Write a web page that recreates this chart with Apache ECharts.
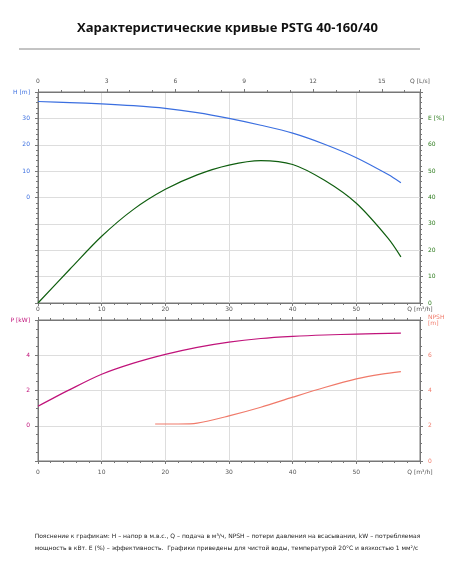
<!DOCTYPE html><html><head><meta charset="utf-8"><script src="https://cdn.jsdelivr.net/npm/echarts@6/dist/echarts.min.js"></script>
<style>html,body{margin:0;padding:0;background:#fff}#c{width:455px;height:567px}</style></head><body><div id="c"></div><script>
var qH=[0,5,10,15,20,25,30,35,40,45,50,55,57];
var H=[36.4,36.0,35.5,34.8,33.8,32.2,30.0,27.4,24.4,20.2,15.1,8.7,5.6];
var qE=[0,5,10,15,20,25,30,35,40,45,50,55,57];
var E=[0,12.8,25.3,35.5,43.1,48.6,52.3,54.0,52.5,46.5,37.8,24.5,17.5];
var qP=[0,5,10,15,20,25,30,35,40,45,50,57];
var P=[1.11,2.05,2.92,3.55,4.05,4.45,4.75,4.95,5.07,5.15,5.2,5.26];
var qN=[18.4,22,25,30,35,40,45,50,54,57];
var N=[2.1,2.1,2.15,2.56,3.05,3.62,4.17,4.66,4.93,5.07];
function pairs(x,y){return x.map(function(v,i){return [v,y[i]];});}
var lab={fontSize:6,color:'#555',fontFamily:'DejaVu Sans'};
function L(c){return Object.assign({},lab,{color:c});}
var ax={onZero:false,lineStyle:{color:'#777'}};
var split={lineStyle:{color:'#ddd'}};
var tick={show:true,length:3,lineStyle:{color:'#777'}};
var chart=echarts.init(document.getElementById('c'));
function S(xi,yi,q,v,c){return {type:'line',xAxisIndex:xi,yAxisIndex:yi,data:pairs(q,v),smooth:0.3,showSymbol:false,lineStyle:{color:c,width:1.2}};}
chart.setOption({
 animation:false,
 title:{text:'Характеристические кривые PSTG 40-160/40',left:'center',top:17,textStyle:{fontSize:13,fontWeight:'bold',color:'#111',fontFamily:'Open Sans'}},
 graphic:[{type:'line',shape:{x1:19,y1:49,x2:420,y2:49},style:{stroke:'#888',lineWidth:1}},
  {type:'text',left:'center',top:530,style:{text:'Пояснение к графикам: H – напор в м.в.с., Q – подача в м³/ч, NPSH – потери давления на всасывании, kW – потребляемая\nмощность в кВт. E (%) – эффективность.  Графики приведены для чистой воды, температурой 20°C и вязкостью 1 мм²/с',fontSize:6,lineHeight:12,fill:'#222',align:'center',fontFamily:'DejaVu Sans'}}],
 grid:[{left:38,right:35,top:92,height:211,show:true,borderColor:'#777',borderWidth:1},
       {left:38,right:35,top:320,height:141,show:true,borderColor:'#777',borderWidth:1}],
 xAxis:[
  {gridIndex:0,type:'value',min:0,max:60,interval:10,axisLabel:{show:false},axisLine:ax,axisTick:tick,minorTick:{show:true,splitNumber:5,length:2},splitLine:split},
  {gridIndex:0,type:'value',position:'top',min:0,max:60/3.6,interval:3,axisLine:ax,axisTick:tick,minorTick:{show:true,splitNumber:3,length:2},splitLine:{show:false},
   axisLabel:Object.assign({},lab,{showMaxLabel:true,formatter:function(v){return v>16?'Q [L/s]':v;}})},
  {gridIndex:1,type:'value',min:0,max:60,interval:10,axisLine:ax,axisTick:tick,minorTick:{show:true,splitNumber:5,length:2},splitLine:split,
   axisLabel:Object.assign({},lab,{formatter:function(v){return v==60?'Q [m³/h]':v;}})},
  {gridIndex:1,type:'value',position:'top',min:0,max:60,interval:10,axisLine:ax,axisTick:tick,minorTick:{show:true,splitNumber:5,length:2},splitLine:{show:false},
   axisLabel:Object.assign({},lab,{formatter:function(v){return v==60?'Q [m³/h]':v;}})}
 ],
 yAxis:[
  {gridIndex:0,type:'value',min:-40,max:40,interval:10,axisLine:ax,axisTick:tick,minorTick:{show:true,splitNumber:5,length:2},splitLine:split,
   axisLabel:Object.assign(L('#3b6fe0'),{formatter:function(v){return v==40?'H [m]':(v<0?'':v);}})},
  {gridIndex:0,type:'value',position:'right',min:0,max:80,interval:10,axisLine:ax,axisTick:tick,minorTick:{show:true,splitNumber:5,length:2},splitLine:{show:false},
   axisLabel:Object.assign(L('#2a7a1a'),{formatter:function(v){return v==70?'E [%]':(v==80?'':v);}})},
  {gridIndex:1,type:'value',min:-2,max:6,interval:2,axisLine:ax,axisTick:tick,minorTick:{show:true,splitNumber:4,length:2},splitLine:split,
   axisLabel:Object.assign(L('#c0137a'),{formatter:function(v){return v==6?'P [kW]':(v<0?'':v);}})},
  {gridIndex:1,type:'value',position:'right',min:0,max:8,interval:2,axisLine:ax,axisTick:tick,minorTick:{show:true,splitNumber:4,length:2},splitLine:{show:false},
   axisLabel:Object.assign(L('#f07a6a'),{formatter:function(v){return v==8?'NPSH\n[m]':v;}})}
 ],
 series:[S(0,0,qH,H,'#3b6fe0'),S(0,1,qE,E,'#0f5e0f'),S(2,2,qP,P,'#c0137a'),S(2,3,qN,N,'#f07a6a')]
});
</script></body></html>
